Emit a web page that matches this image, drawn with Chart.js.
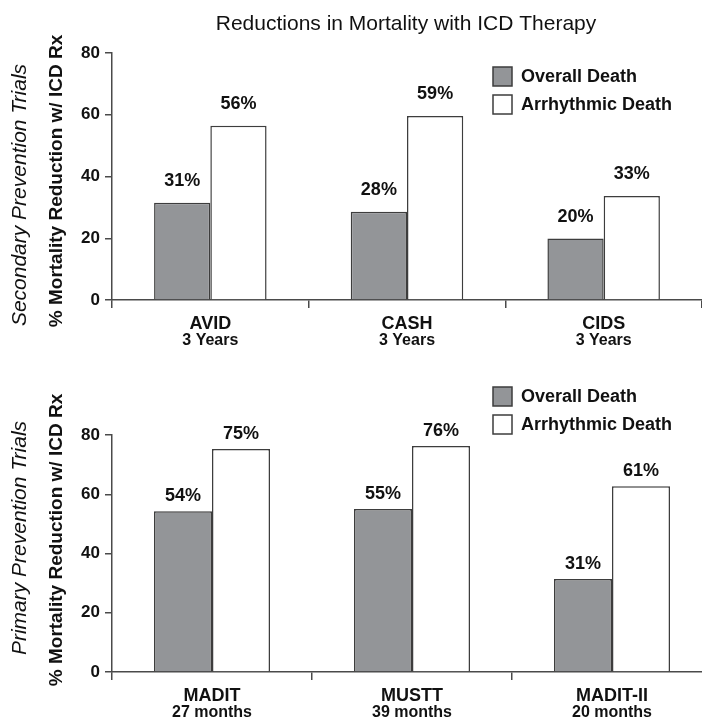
<!DOCTYPE html>
<html><head><meta charset="utf-8">
<script src="https://cdn.jsdelivr.net/npm/chart.js@4/dist/chart.umd.min.js"></script>
<style>
html,body{margin:0;padding:0;background:#fff;overflow:hidden;width:702px;height:720px}
#wrap{position:relative;width:702px;height:720px;overflow:hidden;background:#fff}
.box{position:absolute;left:0}
</style></head><body>
<div id="wrap">
<div class="box" style="top:0;width:702px;height:360px"><canvas id="c1" width="702" height="360"></canvas></div>
<div class="box" style="top:360px;width:712px;height:360px"><canvas id="c2" width="712" height="360"></canvas></div>
</div>
<script>
const chartTitle = 'Reductions in Mortality with ICD Therapy';
const seriesNames = ['Overall Death', 'Arrhythmic Death'];
const yAxisTitle = '% Mortality Reduction w/ ICD Rx';
const yTickValues = [0, 20, 40, 60, 80];

const secondaryGroupTitle = 'Secondary Prevention Trials';
const secondaryTrials = ['AVID', 'CASH', 'CIDS'];
const secondaryDurations = ['3 Years', '3 Years', '3 Years'];
const secondaryOverall = [31.5, 28.6, 19.9];
const secondaryArrhythmic = [56.4, 59.6, 33.7];
const secondaryOverallLabels = ['31%', '28%', '20%'];
const secondaryArrhythmicLabels = ['56%', '59%', '33%'];

const primaryGroupTitle = 'Primary Prevention Trials';
const primaryTrials = ['MADIT', 'MUSTT', 'MADIT-II'];
const primaryDurations = ['27 months', '39 months', '20 months'];
const primaryOverall = [54.3, 55.0, 31.4];
const primaryArrhythmic = [75.3, 76.3, 62.7];
const primaryOverallLabels = ['54%', '55%', '31%'];
const primaryArrhythmicLabels = ['75%', '76%', '61%'];

const FONT = "'Liberation Sans', Arial, Helvetica, sans-serif";
const GRAY = '#939598';
const EDGE = '#3d3d3d';
const AXIS = '#4a4a4a';
const TEXT = '#111111';

function makePanel(canvas, cfg) {
  const overlay = {
    id: 'overlay_' + canvas.id,
    afterDraw(chart) {
      const ctx = chart.ctx;
      const area = chart.chartArea;
      const xs = chart.scales.x;
      ctx.save();
      ctx.fillStyle = TEXT;
      // value labels
      ctx.font = 'bold 18px ' + FONT;
      ctx.textAlign = 'center';
      ctx.textBaseline = 'middle';
      chart.data.datasets.forEach((ds, di) => {
        const meta = chart.getDatasetMeta(di);
        meta.data.forEach((el, i) => {
          ctx.fillText(cfg.valueLabels[di][i], el.x, el.y - cfg.labelGap);
        });
      });
      // category labels
      const axisY = area.bottom;
      cfg.categories.forEach((c, i) => {
        const x = xs.getPixelForValue(i);
        ctx.font = 'bold 18px ' + FONT;
        ctx.fillText(c, x, axisY + 24);
        ctx.font = 'bold 16px ' + FONT;
        ctx.fillText(cfg.durations[i], x, axisY + 41);
      });
      // legend
      ctx.textAlign = 'left';
      chart.data.datasets.forEach((ds, di) => {
        const by = cfg.legendTop + di * 28;
        ctx.fillStyle = ds.backgroundColor;
        ctx.fillRect(493, by, 19, 19);
        ctx.strokeStyle = EDGE;
        ctx.lineWidth = 1.5;
        ctx.strokeRect(493, by, 19, 19);
        ctx.fillStyle = TEXT;
        ctx.font = 'bold 18px ' + FONT;
        ctx.fillText(ds.label, 521, by + 10);
      });
      // y titles
      ctx.textAlign = 'center';
      ctx.save();
      ctx.translate(20, cfg.italicCenter);
      ctx.rotate(-Math.PI / 2);
      ctx.font = 'italic 21px ' + FONT;
      ctx.fillText(cfg.groupTitle, 0, 0);
      ctx.restore();
      ctx.save();
      ctx.translate(57, cfg.boldCenter);
      ctx.rotate(-Math.PI / 2);
      ctx.font = 'bold 19px ' + FONT;
      ctx.fillText(yAxisTitle, 0, 0);
      ctx.restore();
      if (cfg.title) {
        ctx.font = '21px ' + FONT;
        ctx.fillText(cfg.title, 406, 24);
      }
      ctx.restore();
    }
  };
  return new Chart(canvas, {
    type: 'bar',
    data: {
      labels: cfg.categories,
      datasets: [
        { label: seriesNames[0], data: cfg.overall, backgroundColor: GRAY, borderColor: EDGE, borderWidth: 1.5,
          categoryPercentage: cfg.catPct, barPercentage: 1.0 },
        { label: seriesNames[1], data: cfg.arrhythmic, backgroundColor: '#ffffff', borderColor: EDGE, borderWidth: 1.5,
          categoryPercentage: cfg.catPct, barPercentage: 1.0 }
      ]
    },
    options: {
      responsive: false,
      animation: false,
      events: [],
      layout: { padding: { top: cfg.plotTop, left: 0, right: 0, bottom: 0 } },
      plugins: { legend: { display: false }, title: { display: false }, tooltip: { enabled: false } },
      scales: {
        y: {
          min: 0, max: 80,
          afterBuildTicks: s => { s.ticks = yTickValues.map(v => ({ value: v })); },
          afterFit: s => { s.width = 112; },
          ticks: { font: { family: FONT, size: 17, weight: 'bold' }, color: TEXT, padding: 5 },
          grid: { drawOnChartArea: false, drawTicks: true, tickLength: 7, color: AXIS, lineWidth: 1.5 },
          border: { display: true, color: AXIS, width: 1.5 }
        },
        x: {
          afterFit: s => { s.height = cfg.xAxisHeight; },
          ticks: { display: false },
          grid: { offset: true, drawOnChartArea: false, drawTicks: true, tickLength: 8, color: AXIS, lineWidth: 1.5 },
          border: { display: true, color: AXIS, width: 1.5 }
        }
      }
    },
    plugins: [overlay]
  });
}

makePanel(document.getElementById('c1'), {
  categories: secondaryTrials, durations: secondaryDurations,
  overall: secondaryOverall, arrhythmic: secondaryArrhythmic,
  valueLabels: [secondaryOverallLabels, secondaryArrhythmicLabels],
  groupTitle: secondaryGroupTitle, title: chartTitle,
  plotTop: 53, xAxisHeight: 60, catPct: 0.572, labelGap: 22,
  legendTop: 67, italicCenter: 195, boldCenter: 181
});
makePanel(document.getElementById('c2'), {
  categories: primaryTrials, durations: primaryDurations,
  overall: primaryOverall, arrhythmic: primaryArrhythmic,
  valueLabels: [primaryOverallLabels, primaryArrhythmicLabels],
  groupTitle: primaryGroupTitle, title: null,
  plotTop: 75, xAxisHeight: 48, catPct: 0.58, labelGap: 15,
  legendTop: 27, italicCenter: 178, boldCenter: 180
});
</script>
</body></html>
